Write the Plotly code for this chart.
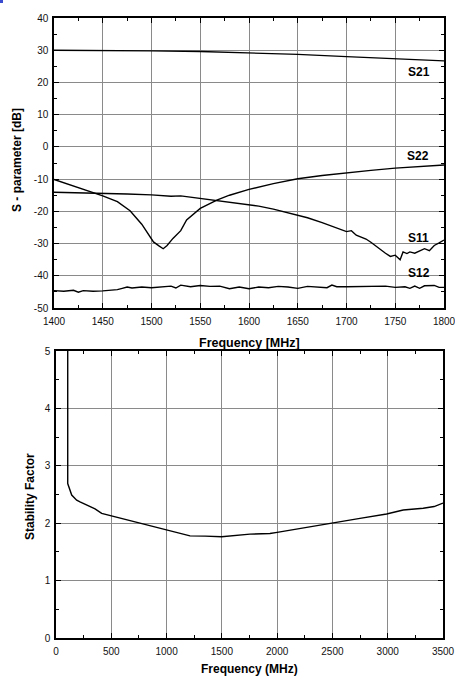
import plotly.graph_objects as go

# ---------------- Data: S-parameters (top panel) ----------------
freq_s21 = [1400, 1450, 1500, 1550, 1600, 1650, 1700, 1750, 1800]
s21_db = [30.0, 30.0, 29.8, 29.6, 29.2, 28.7, 28.0, 27.3, 26.7]

# curve with the dip near 1512 MHz (labelled S22 at the right end)
freq_s22 = [1400, 1425, 1442, 1450, 1465, 1478, 1490, 1502, 1508, 1512, 1516,
            1522, 1530, 1536, 1550, 1567, 1580, 1600, 1625, 1650, 1675, 1700,
            1725, 1750, 1775, 1800]
s22_db = [-10.1, -12.6, -14.2, -15.2, -17.0, -19.8, -24.0, -29.5, -30.8, -31.6, -30.6,
          -28.4, -26.0, -22.7, -19.1, -16.5, -15.0, -13.2, -11.4, -9.9, -8.9, -8.0,
          -7.3, -6.6, -6.1, -5.6]

# curve falling to about -35 dB near 1755 MHz (labelled S11)
freq_s11 = [1400, 1425, 1450, 1475, 1500, 1520, 1530, 1540, 1550, 1570, 1580, 1600,
            1610, 1625, 1640, 1650, 1660, 1675, 1690, 1700, 1705, 1710, 1715, 1720,
            1725, 1730, 1735, 1740, 1745, 1750, 1755, 1758, 1762, 1765, 1770, 1775,
            1780, 1785, 1790, 1795, 1800]
s11_db = [-14.1, -14.2, -14.4, -14.6, -14.9, -15.3, -15.2, -15.6, -16.0, -16.8, -17.2, -17.8,
          -18.4, -19.3, -20.5, -21.4, -22.0, -23.5, -25.2, -26.3, -26.0, -27.4, -28.0, -28.6,
          -29.6, -30.8, -31.8, -33.0, -34.0, -33.6, -35.0, -32.6, -33.1, -32.6, -33.0, -32.4,
          -31.6, -32.2, -30.6, -29.8, -28.9]

freq_s12 = [1400, 1410, 1420, 1425, 1430, 1440, 1450, 1460, 1465, 1470, 1475, 1480,
            1490, 1500, 1510, 1520, 1525, 1530, 1540, 1550, 1560, 1570, 1580, 1590,
            1600, 1610, 1620, 1630, 1640, 1650, 1660, 1670, 1680, 1685, 1690, 1700,
            1710, 1720, 1730, 1740, 1750, 1760, 1765, 1770, 1775, 1780, 1790, 1795, 1800]
s12_db = [-44.6, -44.8, -44.5, -45.1, -44.6, -44.8, -44.7, -44.5, -44.3, -43.9, -43.5, -43.8,
          -43.5, -43.7, -43.4, -43.2, -43.8, -42.9, -43.4, -43.0, -43.3, -43.2, -44.0, -43.5,
          -44.0, -43.5, -43.7, -43.3, -43.5, -43.9, -43.3, -43.5, -43.7, -42.9, -43.4, -43.4,
          -43.4, -43.3, -43.3, -43.2, -43.6, -43.4, -43.9, -43.2, -43.9, -43.1, -43.0, -43.6, -43.6]

curve_labels = ["S21", "S22", "S11", "S12"]
label_freq = [1774, 1773, 1774, 1774]
label_db = [23.3, -2.8, -28.2, -39.0]

# ---------------- Data: stability factor (bottom panel) ----------------
freq_k = [106, 106, 142, 187, 217, 353, 413, 600, 760, 1000, 1100, 1212, 1350, 1498,
          1754, 1935, 2000, 2236, 2500, 2749, 2990, 3140, 3321, 3420, 3500]
k_val = [6.0, 2.69, 2.49, 2.40, 2.37, 2.25, 2.17, 2.08, 2.0, 1.88, 1.84, 1.78, 1.775, 1.765,
         1.81, 1.82, 1.84, 1.92, 2.0, 2.085, 2.16, 2.23, 2.26, 2.29, 2.35]

x1_ticks = [1400, 1450, 1500, 1550, 1600, 1650, 1700, 1750, 1800]
y1_ticks = [-50, -40, -30, -20, -10, 0, 10, 20, 30, 40]
x2_ticks = [0, 500, 1000, 1500, 2000, 2500, 3000, 3500]
y2_ticks = [0, 1, 2, 3, 4, 5]

W, H = 455, 677
FONT = "Liberation Sans, Arial, sans-serif"

fig = go.Figure()
line = dict(color="black", width=1.4)
for fx, fy in [(freq_s21, s21_db), (freq_s22, s22_db), (freq_s11, s11_db), (freq_s12, s12_db)]:
    fig.add_trace(go.Scatter(x=fx, y=fy, mode="lines", line=line, xaxis="x", yaxis="y",
                             showlegend=False, hoverinfo="skip"))
fig.add_trace(go.Scatter(x=freq_k, y=k_val, mode="lines", line=line, xaxis="x2", yaxis="y2",
                         showlegend=False, hoverinfo="skip"))


def ax(rng, ticks, minor_dtick, domain, anchor, standoff):
    return dict(
        range=rng, domain=domain, anchor=anchor, automargin=False,
        tickmode="array", tickvals=ticks, ticktext=[str(t) for t in ticks],
        ticks="inside", ticklen=5, tickwidth=1, tickcolor="black",
        minor=dict(ticks="inside", ticklen=3, tickwidth=1, tickcolor="black",
                   dtick=minor_dtick, tick0=rng[0], showgrid=False),
        showline=True, linecolor="black", linewidth=1.5, mirror="ticks",
        showgrid=True, gridcolor="#8a8a8a", gridwidth=1, zeroline=False,
        ticklabelstandoff=standoff, ticklabeloverflow="allow",
        tickfont=dict(family=FONT, size=10, color="#111"),
    )


def px_x(p):
    return p / W


def px_y(p):
    return 1 - p / H


fig.update_layout(
    template="none",
    width=W, height=H, margin=dict(l=0, r=0, t=0, b=0, autoexpand=False),
    paper_bgcolor="white", plot_bgcolor="white",
    xaxis=ax([1400, 1800], x1_ticks, 25, [px_x(54), px_x(444)], "y", 3),
    yaxis=ax([-50, 40], y1_ticks, 5, [px_y(308), px_y(18)], "x", 2),
    xaxis2=ax([0, 3500], x2_ticks, 250, [px_x(56), px_x(443)], "y2", 3),
    yaxis2=ax([0, 5], y2_ticks, 0.5, [px_y(638), px_y(351)], "x2", 2),
)

annotations = []
for lab, fx, fy in zip(curve_labels, label_freq, label_db):
    annotations.append(dict(x=fx, y=fy, xref="x", yref="y", text=f"<b>{lab}</b>", showarrow=False,
                            font=dict(family=FONT, size=12, color="black")))
title_font = dict(family=FONT, size=12.5, color="black")
annotations += [
    dict(x=px_x(249), y=px_y(343), xref="paper", yref="paper", text="<b>Frequency [MHz]</b>",
         showarrow=False, font=title_font, xanchor="center", yanchor="middle"),
    dict(x=px_x(249), y=px_y(669), xref="paper", yref="paper", text="<b>Frequency (MHz)</b>",
         showarrow=False, font=dict(family=FONT, size=12, color="black"),
         xanchor="center", yanchor="middle"),
    dict(x=px_x(17), y=px_y(160), xref="paper", yref="paper", text="<b>S - parameter [dB]</b>",
         showarrow=False, font=dict(family=FONT, size=12, color="black"), textangle=-90,
         xanchor="center", yanchor="middle"),
    dict(x=px_x(30), y=px_y(497), xref="paper", yref="paper", text="<b>Stability Factor</b>",
         showarrow=False, font=dict(family=FONT, size=12, color="black"), textangle=-90,
         xanchor="center", yanchor="middle"),
]
fig.update_layout(annotations=annotations)

fig.add_shape(type="rect", xref="paper", yref="paper", x0=0, x1=px_x(3), y0=px_y(3), y1=1,
              fillcolor="#3b4bd0", line=dict(width=0))

# remove the browser's default 8px page margin so the figure sits at the window's corner
fig.write_html("out.html", config={"displayModeBar": False},
               post_script="document.body.style.margin='0';")
